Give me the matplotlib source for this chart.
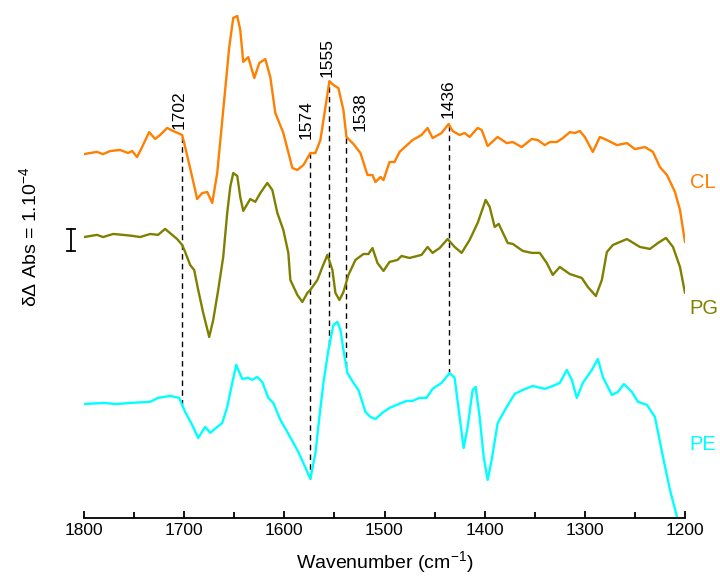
import numpy as np
from matplotlib import pyplot as plt
from matplotlib.ticker import MultipleLocator

plt.rcParams['font.family'] = ['Liberation Sans', 'DejaVu Sans']

#---- data (delta absorbance, units of 1e-4, relative to each trace baseline)

wn_cl = [1800, 1794, 1787, 1781, 1774, 1764, 1756, 1752, 1747, 1742, 1735, 1729,
         1724, 1717, 1711, 1702, 1699, 1692, 1687, 1682, 1677, 1672, 1667, 1661,
         1655, 1651, 1647, 1644, 1641, 1636, 1630, 1625, 1619, 1614, 1609, 1601,
         1592, 1587, 1581, 1574, 1569, 1564, 1555, 1551, 1546, 1541, 1538, 1531,
         1524, 1517, 1512, 1509, 1504, 1501, 1495, 1490, 1485, 1472, 1463, 1457,
         1452, 1443, 1436, 1432, 1425, 1420, 1415, 1407, 1403, 1397, 1387, 1378,
         1372, 1363, 1353, 1347, 1340, 1335, 1328, 1322, 1315, 1310, 1305, 1300,
         1292, 1285, 1278, 1268, 1258, 1250, 1240, 1232, 1225, 1218, 1210, 1205,
         1200]
cl = [-0.05, 0.0, 0.05, -0.05, 0.09, 0.14, 0.0, 0.09, -0.18, 0.27, 0.95, 0.64,
      0.82, 1.14, 1.0, 0.82, 0.27, -1.09, -2.09, -1.82, -1.77, -2.27, -0.91, 1.95,
      4.82, 6.14, 6.23, 5.59, 4.14, 4.36, 3.41, 4.09, 4.27, 3.45, 1.82, 0.91,
      -0.68, -0.77, -0.55, 0.0, 0.0, 0.59, 3.27, 3.09, 2.95, 1.95, 0.73, 0.41,
      0.0, -1.0, -1.0, -1.32, -1.09, -1.23, -0.41, -0.41, 0.05, 0.59, 0.82, 1.14,
      0.68, 0.91, 1.32, 1.0, 0.82, 0.91, 0.73, 1.14, 1.05, 0.32, 0.73, 0.45,
      0.5, 0.27, 0.64, 0.59, 0.36, 0.5, 0.5, 0.68, 0.95, 0.91, 1.0, 0.73,
      0.05, 0.73, 0.59, 0.36, 0.45, 0.18, 0.27, 0.05, -0.64, -1.0, -1.77, -2.59,
      -4.05]

wn_pg = [1800, 1787, 1781, 1771, 1761, 1751, 1744, 1734, 1726, 1719, 1712, 1707,
         1702, 1699, 1694, 1690, 1686, 1681, 1675, 1671, 1666, 1661, 1657, 1654,
         1651, 1647, 1644, 1641, 1634, 1629, 1624, 1617, 1612, 1607, 1601, 1596,
         1594, 1587, 1582, 1577, 1574, 1567, 1562, 1557, 1552, 1549, 1545, 1541,
         1536, 1529, 1521, 1516, 1512, 1507, 1501, 1495, 1487, 1483, 1475, 1463,
         1457, 1452, 1445, 1437, 1430, 1423, 1415, 1407, 1399, 1395, 1390, 1386,
         1377, 1372, 1362, 1353, 1345, 1338, 1332, 1325, 1315, 1303, 1297, 1289,
         1283, 1278, 1272, 1258, 1245, 1235, 1227, 1219, 1212, 1205, 1200]
pg = [-0.05, 0.05, -0.05, 0.09, 0.05, 0.0, -0.05, 0.09, 0.05, 0.32, 0.05, -0.14,
      -0.41, -0.73, -1.32, -1.55, -2.45, -3.5, -4.59, -3.82, -2.45, -0.95, 1.05, 2.23,
      2.86, 2.73, 1.77, 1.14, 1.68, 1.55, 1.95, 2.41, 2.09, 1.05, 0.27, -0.77,
      -2.0, -2.68, -3.0, -2.59, -2.45, -2.0, -1.41, -0.86, -1.55, -2.59, -2.91, -2.55,
      -1.77, -1.09, -0.82, -0.82, -0.55, -1.23, -1.59, -1.18, -1.09, -0.91, -1.0, -0.86,
      -0.5, -0.77, -0.55, -0.14, -0.5, -0.77, -0.18, 0.59, 1.64, 1.32, 0.41, 0.55,
      -0.32, -0.36, -0.68, -0.77, -0.77, -1.23, -1.77, -1.41, -1.73, -1.91, -2.32, -2.73,
      -2.0, -0.73, -0.41, -0.14, -0.5, -0.59, -0.32, -0.09, -0.5, -1.41, -2.59]

wn_pe = [1800, 1781, 1767, 1754, 1734, 1726, 1714, 1705, 1699, 1692, 1686, 1679,
         1674, 1667, 1662, 1657, 1652, 1648, 1646, 1642, 1636, 1632, 1627, 1622,
         1616, 1611, 1604, 1597, 1587, 1581, 1574, 1569, 1565, 1561, 1556, 1551,
         1547, 1544, 1541, 1537, 1531, 1526, 1519, 1514, 1509, 1501, 1495, 1488,
         1478, 1472, 1465, 1458, 1452, 1443, 1435, 1430, 1425, 1421, 1417, 1412,
         1409, 1405, 1401, 1397, 1393, 1387, 1378, 1370, 1362, 1352, 1340, 1332,
         1325, 1318, 1313, 1308, 1302, 1293, 1287, 1282, 1273, 1267, 1261, 1253,
         1247, 1238, 1230, 1222, 1215, 1208, 1204]
pe = [-0.05, 0.0, -0.05, 0.0, 0.05, 0.23, 0.32, 0.23, -0.41, -1.0, -1.59, -1.09,
      -1.36, -1.09, -0.91, -0.18, 0.91, 1.73, 1.5, 1.09, 1.14, 1.05, 1.18, 0.95,
      0.23, 0.0, -0.77, -1.32, -2.14, -2.73, -3.45, -2.3, -0.64, 0.91, 2.41, 3.55,
      3.68, 3.32, 2.41, 1.36, 0.91, 0.59, -0.41, -0.64, -0.73, -0.41, -0.23, -0.09,
      0.09, 0.09, 0.23, 0.23, 0.64, 0.91, 1.36, 1.14, -0.64, -2.05, -1.09, 0.59,
      0.73, -0.64, -2.45, -3.5, -2.59, -0.91, -0.18, 0.41, 0.59, 0.77, 0.64, 0.77,
      0.91, 1.5, 1.05, 0.23, 0.91, 1.5, 2.0, 1.18, 0.36, 0.5, 0.86, 0.5,
      0.05, -0.09, -0.64, -2.45, -3.95, -5.18, -6.0]

names = ['CL', 'PG', 'PE']
colors = ['#FF7F00', '#808000', '#00FFFF']
offsets = [16.59, 12.82, 5.23]
label_y = [15.27, 9.5, 3.32]

marks = [1702, 1574, 1555, 1538, 1436]
mark_dx = [-2, -3, -2, 10, 0]
mark_dy = [4, 10, 3, 4, 4]


#---- Figure

fig = plt.figure(figsize=(7.2, 5.88), dpi=100)
ax = fig.add_axes([84/720, 70/588, 601/720, 518/588])

traces = [(wn_cl, cl), (wn_pg, pg), (wn_pe, pe)]
for (wn, v), off, c, nm, ly in zip(traces, offsets, colors, names, label_y):
    ax.plot(wn, np.array(v) + off, '-', color=c, lw=1.7,
            solid_joinstyle='round', solid_capstyle='round')
    ax.text(1.008, ly, nm, color=c, fontsize=14.5, va='center', ha='left',
            transform=ax.get_yaxis_transform())

# dashed markers from CL curve down to PE curve
for m, dx, dy in zip(marks, mark_dx, mark_dy):
    y_top = np.interp(m, wn_cl[::-1], cl[::-1]) + offsets[0]
    y_bot = np.interp(m, wn_pe[::-1], pe[::-1]) + offsets[2]
    ax.plot([m, m], [y_bot, y_top], '--', color='k', lw=1.0, dashes=(4, 3), zorder=0)
    ax.annotate(str(m), (m, y_top), xytext=(dx, dy), textcoords='offset points',
                rotation=90, ha='center', va='bottom', fontsize=12.5)

# scale bar: 1e-4
sb_x, sb_y = 1813.3, 12.14
ax.plot([sb_x, sb_x], [sb_y, sb_y + 1.0], '-k', lw=1.3, clip_on=False)
for yy in [sb_y, sb_y + 1.0]:
    ax.plot([sb_x - 4, sb_x + 4], [yy, yy], '-k', lw=1.3, clip_on=False)

ax.set_xlim(1800, 1200)
ax.set_ylim(0, 518/22)

ax.spines['top'].set_visible(False)
ax.spines['right'].set_visible(False)
ax.spines['left'].set_visible(False)
ax.spines['bottom'].set_linewidth(1.3)
ax.set_yticks([])

ax.xaxis.set_major_locator(MultipleLocator(100))
ax.xaxis.set_minor_locator(MultipleLocator(50))
ax.get_xaxis().set_tick_params(which='both', direction='in', width=1.3, labelsize=12.5)
ax.get_xaxis().set_tick_params(which='major', length=5)
ax.get_xaxis().set_tick_params(which='minor', length=4)

ax.set_xlabel('Wavenumber (cm$^{\\mathregular{-1}}$)', fontsize=14, labelpad=8)
fig.text(30/720, 1 - 237/588, '$\\mathregular{\\delta\\Delta}$ Abs = 1.10$^{\\mathregular{-4}}$',
         rotation=90, ha='center', va='center', fontsize=14)

plt.savefig('out.png', dpi=100)
